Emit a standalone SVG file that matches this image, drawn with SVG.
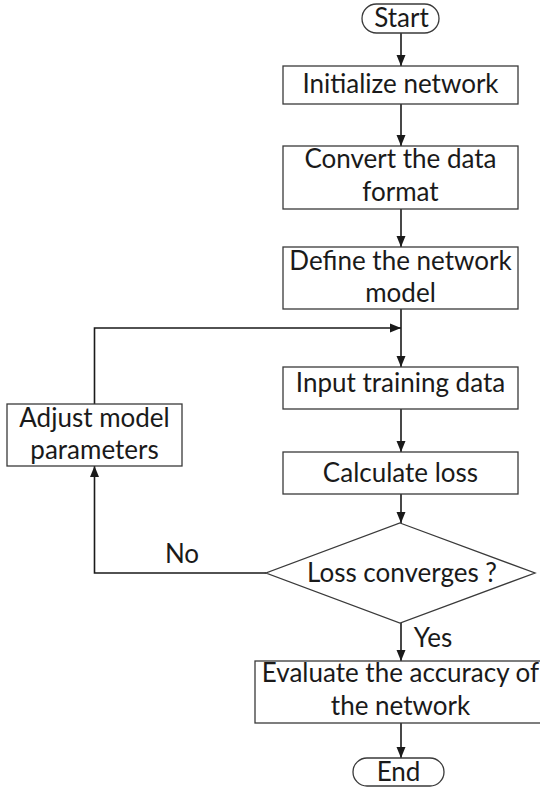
<svg xmlns="http://www.w3.org/2000/svg" width="540" height="788" viewBox="0 0 540 788">
  <style>
    .box { fill: #ffffff; stroke: #3a3a3a; stroke-width: 1.3; }
    .lbl { font-family: Lato, "Open Sans", sans-serif; font-size: 26px; fill: #1a1a1a; text-anchor: middle; }
    .edge { fill: none; stroke: #1a1a1a; stroke-width: 1.6; }
  </style>
  <defs>
    <marker id="arrow" markerUnits="userSpaceOnUse" markerWidth="12" markerHeight="12" viewBox="0 0 12 12" refX="11" refY="6" orient="auto">
      <path d="M0,1.5 L11,6 L0,10.5 Z" fill="#1a1a1a"/>
    </marker>
  </defs>
  <rect width="540" height="788" fill="#ffffff"/>

  <g id="connectors">
    <line class="edge" x1="401" y1="33" x2="401" y2="66" marker-end="url(#arrow)"/>
    <line class="edge" x1="401" y1="104" x2="401" y2="146" marker-end="url(#arrow)"/>
    <line class="edge" x1="401" y1="209" x2="401" y2="247" marker-end="url(#arrow)"/>
    <line class="edge" x1="401" y1="309" x2="401" y2="367" marker-end="url(#arrow)"/>
    <polyline class="edge" points="94.5,404 94.5,328 401,328" marker-end="url(#arrow)"/>
    <line class="edge" x1="401" y1="409" x2="401" y2="452" marker-end="url(#arrow)"/>
    <line class="edge" x1="401" y1="494" x2="401" y2="523" marker-end="url(#arrow)"/>
    <polyline class="edge" points="266,573 94.5,573 94.5,466" marker-end="url(#arrow)"/>
    <line class="edge" x1="401" y1="623" x2="401" y2="661" marker-end="url(#arrow)"/>
    <line class="edge" x1="401" y1="723" x2="401" y2="758" marker-end="url(#arrow)"/>
    <text class="lbl" x="182" y="563">No</text>
    <text class="lbl" x="433" y="647">Yes</text>
  </g>

  <g id="start">
    <rect class="box" x="362" y="4" width="77" height="29" rx="14.5"/>
    <text class="lbl" x="401.5" y="27">Start</text>
  </g>
  <g id="initialize">
    <rect class="box" x="283" y="66" width="235" height="38"/>
    <text class="lbl" x="400.5" y="93">Initialize network</text>
  </g>
  <g id="convert">
    <rect class="box" x="283" y="146" width="235" height="63"/>
    <text class="lbl" x="400.5" y="168">Convert the data</text>
    <text class="lbl" x="400.5" y="201">format</text>
  </g>
  <g id="define">
    <rect class="box" x="283" y="247" width="235" height="62"/>
    <text class="lbl" x="400.5" y="270">Define the network</text>
    <text class="lbl" x="400.5" y="302">model</text>
  </g>
  <g id="input">
    <rect class="box" x="283" y="367" width="235" height="42"/>
    <text class="lbl" x="400.5" y="392">Input training data</text>
  </g>
  <g id="adjust">
    <rect class="box" x="7" y="404" width="175" height="62"/>
    <text class="lbl" x="94.5" y="427">Adjust model</text>
    <text class="lbl" x="94.5" y="459">parameters</text>
  </g>
  <g id="loss">
    <rect class="box" x="283" y="452" width="235" height="42"/>
    <text class="lbl" x="400.5" y="482">Calculate loss</text>
  </g>
  <g id="converges">
    <polygon class="box" points="400,523 535,573 400,623 266,573"/>
    <text class="lbl" x="402" y="582">Loss converges ?</text>
  </g>
  <g id="evaluate">
    <rect class="box" x="255" y="661" width="290" height="62"/>
    <text class="lbl" x="400.5" y="682">Evaluate the accuracy of</text>
    <text class="lbl" x="400.5" y="715">the network</text>
  </g>
  <g id="end">
    <rect class="box" x="353" y="758" width="91" height="28" rx="14"/>
    <text class="lbl" x="398.5" y="781">End</text>
  </g>
</svg>
